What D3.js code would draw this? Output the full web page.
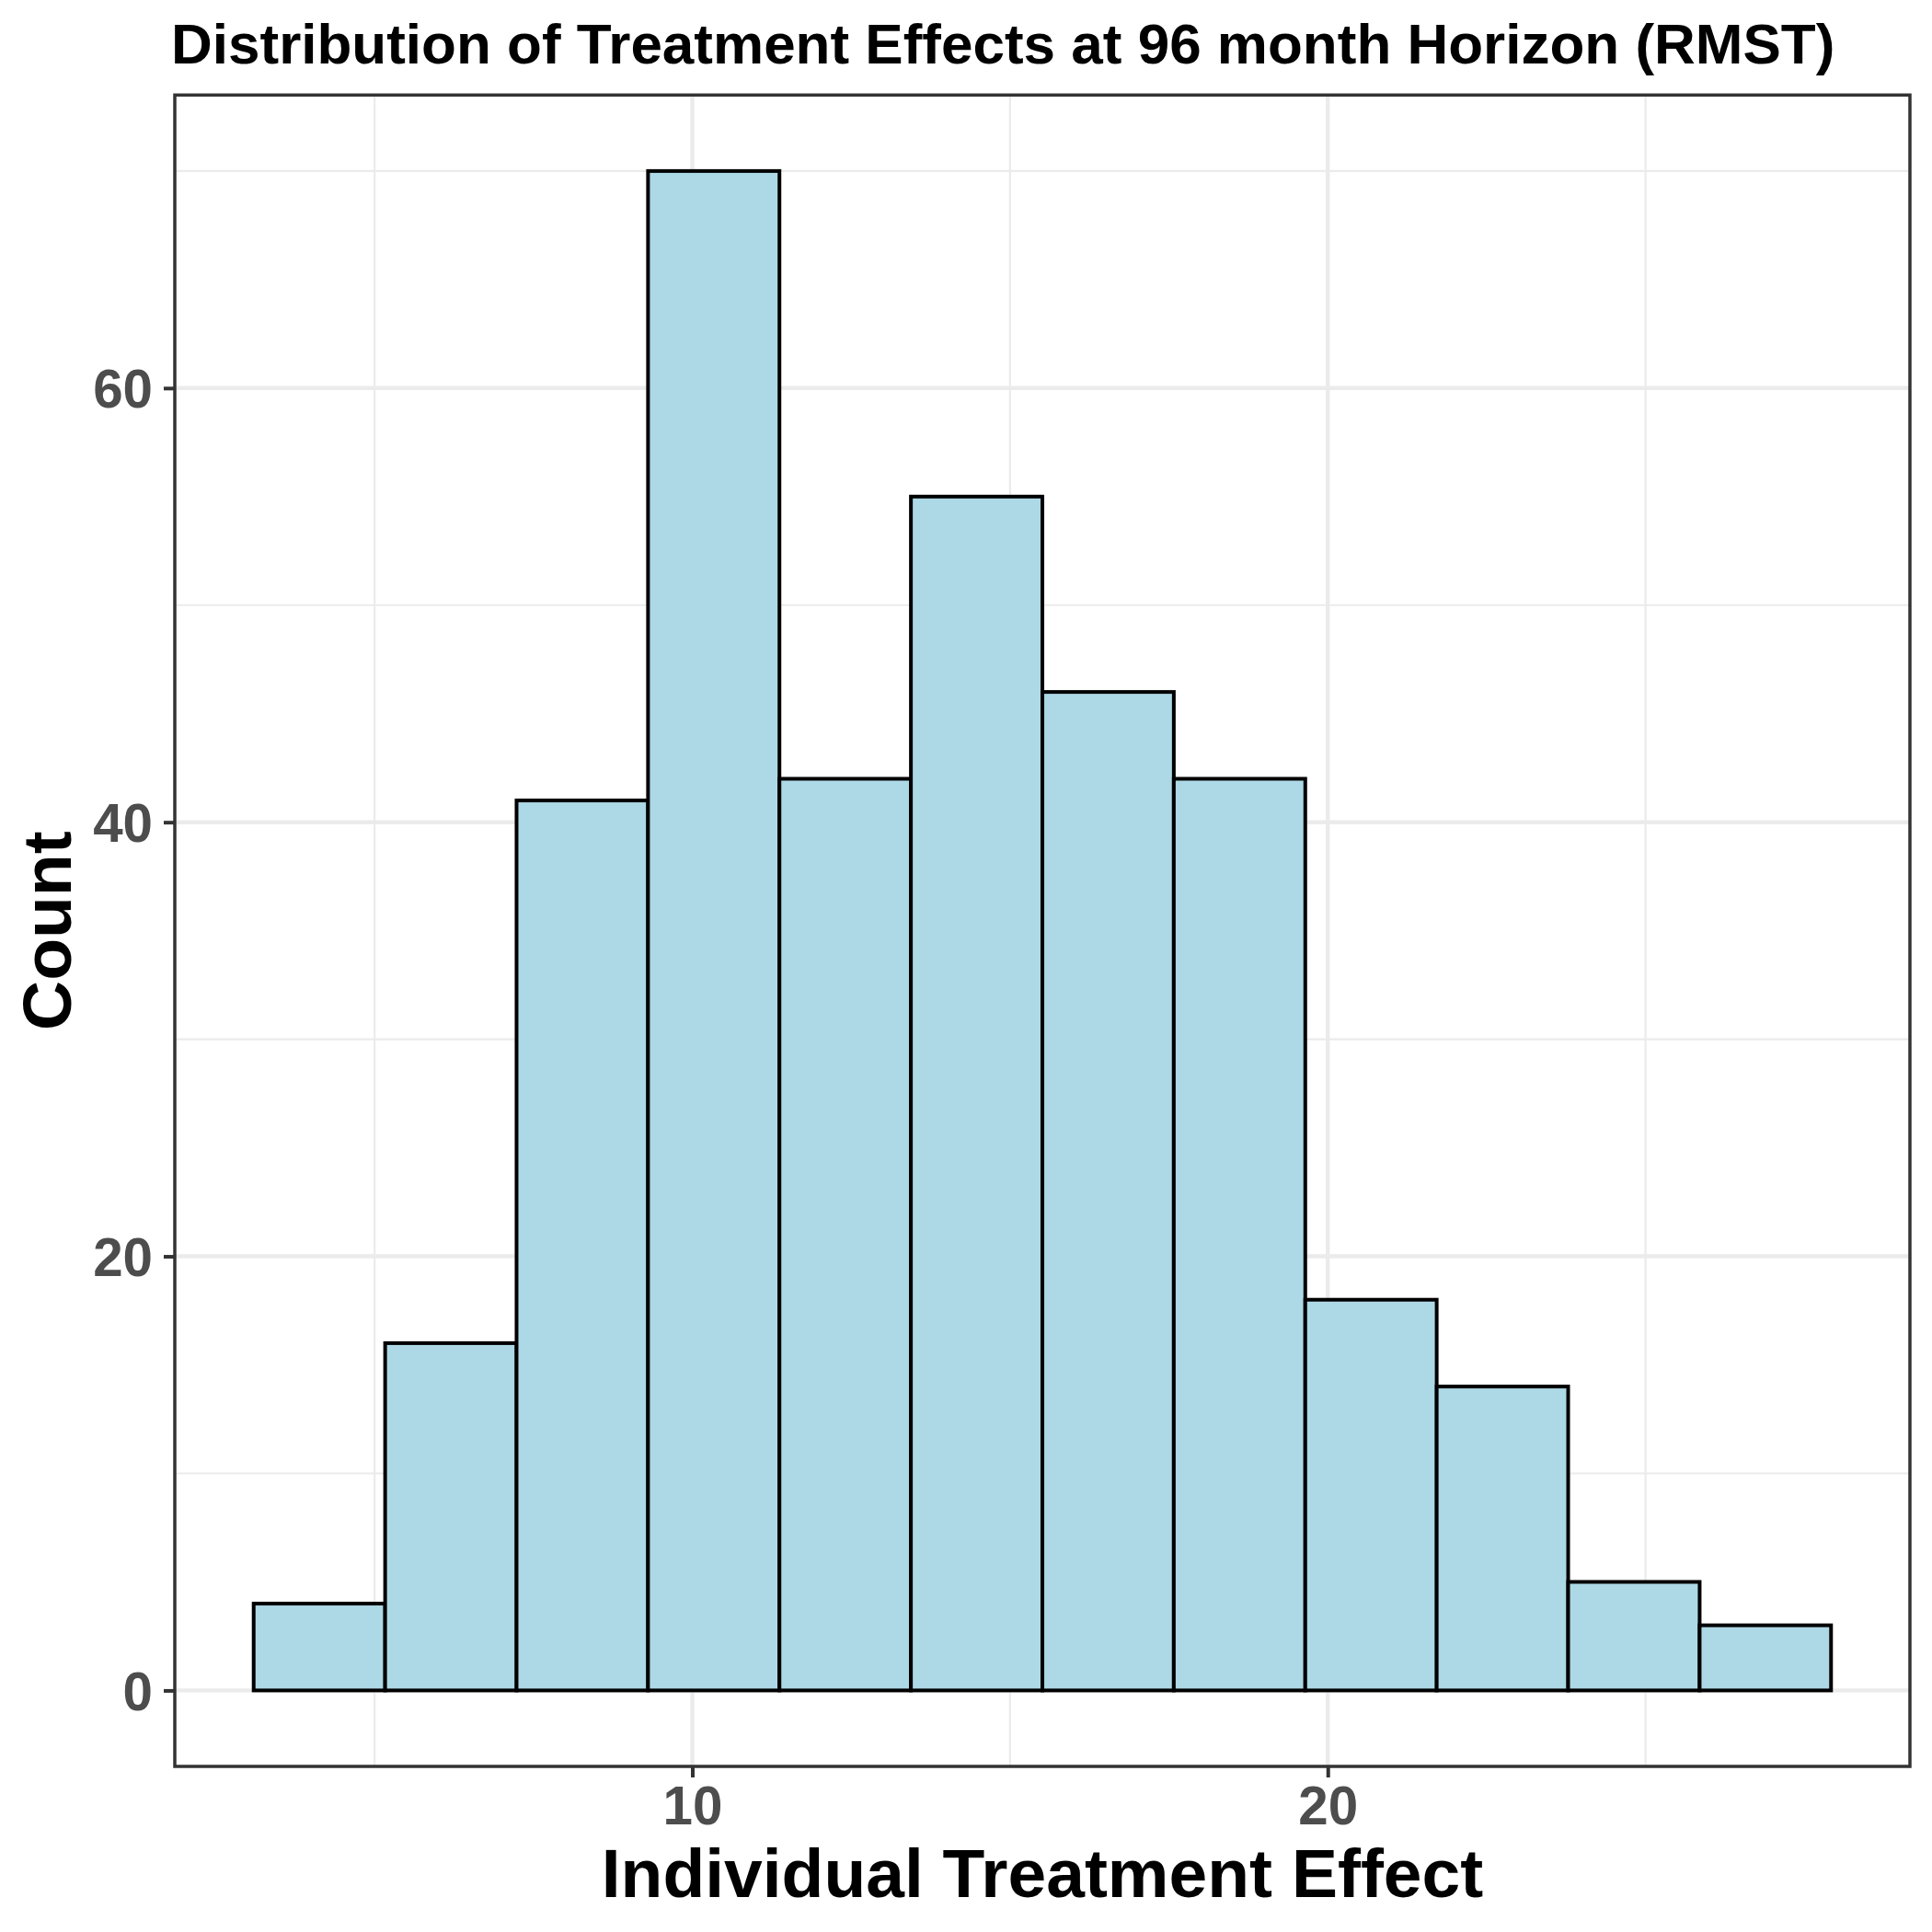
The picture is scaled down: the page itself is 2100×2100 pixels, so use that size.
<!DOCTYPE html>
<html><head><meta charset="utf-8">
<script src="https://cdn.jsdelivr.net/npm/d3@7"></script>
<style>body{margin:0;background:#fff}</style>
</head><body>
<svg id="c" width="2100" height="2100"></svg>
<script>
const binEdges = [3.097, 5.166, 7.234, 9.303, 11.371, 13.440, 15.509, 17.577, 19.646, 21.714, 23.783, 25.852, 27.920];
const counts = [4, 16, 41, 70, 42, 55, 46, 42, 18, 14, 5, 3];
const xMajor = [10, 20];
const xMinor = [5, 15, 25];
const yMajor = [0, 20, 40, 60];
const yMinor = [10, 30, 50, 70];
const titleText = "Distribution of Treatment Effects at 96 month Horizon (RMST)";
const xLabel = "Individual Treatment Effect";
const yLabel = "Count";

const bins = counts.map((c, i) => ({x0: binEdges[i], x1: binEdges[i + 1], n: c}));
const font = "'Liberation Sans', Arial, Helvetica, sans-serif";
const svg = d3.select("#c");
const L = 190, R = 2076, T = 103.3, B = 1920;

const xe = d3.extent(binEdges), xs = (xe[1] - xe[0]) * 0.05;
const x = d3.scaleLinear().domain([xe[0] - xs, xe[1] + xs]).range([L, R]);
const ymax = d3.max(counts), ys = ymax * 0.05;
const y = d3.scaleLinear().domain([-ys, ymax + ys]).range([B, T]);

svg.append("rect").attr("x", 0).attr("y", 0).attr("width", 2100).attr("height", 2100).attr("fill", "#fff");

const g = svg.append("g");
g.selectAll(".xmin").data(xMinor).join("line")
  .attr("x1", d => x(d)).attr("x2", d => x(d)).attr("y1", T).attr("y2", B)
  .attr("stroke", "#EBEBEB").attr("stroke-width", 2.2);
g.selectAll(".ymin").data(yMinor).join("line")
  .attr("y1", d => y(d)).attr("y2", d => y(d)).attr("x1", L).attr("x2", R)
  .attr("stroke", "#EBEBEB").attr("stroke-width", 2.2);
g.selectAll(".xmaj").data(xMajor).join("line")
  .attr("x1", d => x(d)).attr("x2", d => x(d)).attr("y1", T).attr("y2", B)
  .attr("stroke", "#EBEBEB").attr("stroke-width", 4.4);
g.selectAll(".ymaj").data(yMajor).join("line")
  .attr("y1", d => y(d)).attr("y2", d => y(d)).attr("x1", L).attr("x2", R)
  .attr("stroke", "#EBEBEB").attr("stroke-width", 4.4);

svg.append("g").selectAll("rect").data(bins).join("rect")
  .attr("x", d => x(d.x0)).attr("width", d => x(d.x1) - x(d.x0))
  .attr("y", d => y(d.n)).attr("height", d => y(0) - y(d.n))
  .attr("fill", "#ADD8E6").attr("stroke", "#000").attr("stroke-width", 4);

svg.append("rect").attr("x", L).attr("y", T).attr("width", R - L).attr("height", B - T)
  .attr("fill", "none").attr("stroke", "#333333").attr("stroke-width", 3.5);

const xAxis = d3.axisBottom(x).tickValues(xMajor).tickSize(12).tickPadding(10).tickFormat(d3.format("d"));
const gx = svg.append("g").attr("transform", `translate(0,${B})`).call(xAxis);
gx.select(".domain").remove();
gx.selectAll(".tick line").attr("stroke", "#333333").attr("stroke-width", 4);
gx.selectAll(".tick text").attr("fill", "#4D4D4D").attr("font-family", font)
  .attr("font-weight", "bold").attr("font-size", 58.3).attr("dy", "0.71em").attr("y", 22);

const yAxis = d3.axisLeft(y).tickValues(yMajor).tickSize(12).tickPadding(12).tickFormat(d3.format("d"));
const gy = svg.append("g").attr("transform", `translate(${L},0)`).call(yAxis);
gy.select(".domain").remove();
gy.selectAll(".tick line").attr("stroke", "#333333").attr("stroke-width", 4);
gy.selectAll(".tick text").attr("fill", "#4D4D4D").attr("font-family", font)
  .attr("font-weight", "bold").attr("font-size", 58.3).attr("dy", "0.36em");

svg.append("text").attr("x", 186).attr("y", 69).attr("font-family", font)
  .attr("font-weight", "bold").attr("font-size", 62).attr("fill", "#000").text(titleText);
svg.append("text").attr("x", (L + R) / 2).attr("y", 2062).attr("text-anchor", "middle")
  .attr("font-family", font).attr("font-weight", "bold").attr("font-size", 75).attr("fill", "#000").text(xLabel);
svg.append("text").attr("transform", `translate(77,${(T + B) / 2}) rotate(-90)`).attr("text-anchor", "middle")
  .attr("font-family", font).attr("font-weight", "bold").attr("font-size", 75).attr("fill", "#000").text(yLabel);
</script>
</body></html>
